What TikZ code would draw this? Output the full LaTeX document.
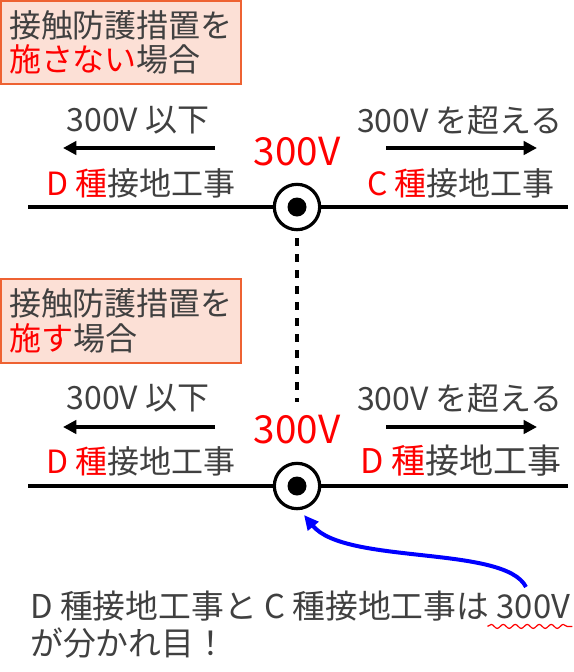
\documentclass[tikz,border=0pt]{standalone}
\usepackage{fontspec}
\setmainfont{Noto Sans CJK JP}
\usetikzlibrary{decorations.pathmorphing, arrows.meta, calc}
\definecolor{txt}{HTML}{404040}
\definecolor{boxfill}{HTML}{FCE0D6}
\definecolor{boxline}{HTML}{EE6232}
\definecolor{hl}{HTML}{FF0000}
\begin{document}
\begin{tikzpicture}[x=0.75pt,y=-0.75pt,
  txtstyle/.style={text=txt, font=\fontsize{24}{30}\selectfont, inner sep=0pt},
  bigred/.style={text=hl, font=\fontsize{29}{34}\selectfont, inner sep=0pt},
  notebox/.style={draw=boxline, fill=boxfill, line width=1.5pt, text=txt,
     font=\fontsize{24}{26}\selectfont, align=left, minimum width=180pt, minimum height=62.5pt,
     text width=168pt, inner sep=0pt},
  wire/.style={line width=2.4pt, black},
  tap/.style={circle, draw=black, line width=2.4pt, minimum size=34pt, inner sep=0pt},
  dir/.style={line width=3pt, -{Triangle[length=10pt,width=10pt]}},
  ]
\useasboundingbox (0,0) rectangle (574,672);

% ---------- upper part ----------
\node[notebox] (b1) at (121,42.5) {接触防護措置を\\\textcolor{hl}{施さない}場合};

\coordinate (l1) at (28,207);
\coordinate (r1) at (568,207);
\node[tap] (c1) at (297,207) {};
\fill (c1.center) circle (9.5);
\draw[wire] (l1) -- (c1.west);
\draw[wire] (c1.east) -- (r1);

\node[txtstyle] (t1a) at (138,120) {300V 以下};
\node[txtstyle] (t1b) at (460,120) {300V を超える};
\node[bigred] (v1) at (297,152) {300V};
\node[txtstyle] (g1a) at (141,183) {\textcolor{hl}{D 種}接地工事};
\node[txtstyle] (g1b) at (461,183) {\textcolor{hl}{C 種}接地工事};

\coordinate (a1s) at (215,148);
\coordinate (a1e) at (63,148);
\coordinate (a2s) at (386,148);
\coordinate (a2e) at (537,148);
\draw[dir] (a1s) -- (a1e);
\draw[dir] (a2s) -- (a2e);

% ---------- dotted link ----------
\coordinate (dtop) at (297,238);
\coordinate (dbot) at (297,402);
\draw[line width=3pt, dash pattern=on 6pt off 6pt] (dtop) -- (dbot);

% ---------- lower part ----------
\node[notebox] (b2) at (121,321) {接触防護措置を\\\textcolor{hl}{施す}場合};

\coordinate (l2) at (28,486);
\coordinate (r2) at (568,486);
\node[tap] (c2) at (297,486) {};
\fill (c2.center) circle (9.5);
\draw[wire] (l2) -- (c2.west);
\draw[wire] (c2.east) -- (r2);

\node[txtstyle] (t2a) at (138,398) {300V 以下};
\node[txtstyle] (t2b) at (460,398) {300V を超える};
\node[bigred] (v2) at (297,430) {300V};
\node[txtstyle] (g2a) at (141,461) {\textcolor{hl}{D 種}接地工事};
\node[txtstyle, font=\fontsize{25.5}{30}\selectfont] (g2b) at (461,461) {\textcolor{hl}{D 種}接地工事};

\coordinate (a3s) at (215,427);
\coordinate (a3e) at (63,427);
\coordinate (a4s) at (386,427);
\coordinate (a4e) at (537,427);
\draw[dir] (a3s) -- (a3e);
\draw[dir] (a4s) -- (a4e);

% ---------- note ----------
\node[txtstyle, anchor=west, font=\fontsize{24.6}{30}\selectfont] (n1) at (30,606) {D 種接地工事と C 種接地工事は 300V};
\node[txtstyle, anchor=west, font=\fontsize{24.6}{30}\selectfont] (n2) at (30,643) {が分かれ目！};
\coordinate (u1) at ($(n1.south east)+(-83,5)$);
\coordinate (u2) at ($(n1.south east)+(2,5)$);
\draw[hl, line width=0.9pt, decorate, decoration={snake, amplitude=1.5pt, segment length=9pt}] (u1) -- (u2);

\coordinate (bs) at (526,587);
\coordinate (be) at (304,515);
\draw[blue, line width=3pt, -{Triangle[length=11pt,width=10pt]}]
  (bs) .. controls (505,545) and (345,565) .. (be);
\end{tikzpicture}
\end{document}
